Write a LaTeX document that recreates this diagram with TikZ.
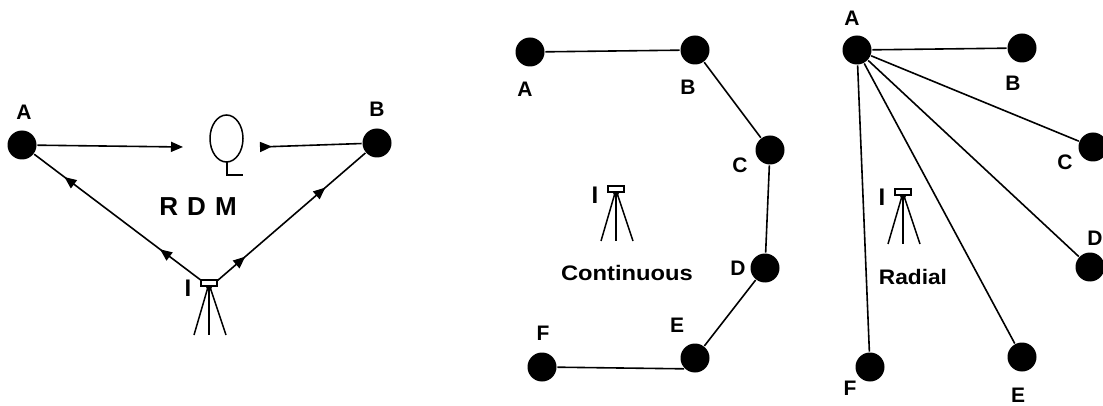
\documentclass[tikz,border=0pt]{standalone}
\usepackage{fontspec}
\setmainfont{Liberation Sans}
\usetikzlibrary{arrows.meta,decorations.markings}
\begin{document}
\begin{tikzpicture}[x=1pt,y=-1pt,
  line width=1.6pt,
  station/.style={circle,fill=black,draw=none,minimum size=29pt,inner sep=0pt},
  lbl/.style={inner sep=0pt,font=\fontsize{21}{21}\selectfont\bfseries},
  instlbl/.style={inner sep=0pt,font=\fontsize{24}{24}\selectfont\bfseries},
  big/.style={inner sep=0pt,font=\fontsize{26}{26}\selectfont\bfseries},
  caption/.style={inner sep=0pt,font=\fontsize{21}{21}\selectfont\bfseries},
  tip/.style={-{Triangle[length=12pt,width=10pt]}},
  markat/.style={postaction={decorate},decoration={markings,
    mark=at position #1 with {\arrow{Triangle[length=12pt,width=10pt]}}}},
  tripod/.pic={
    \draw[line width=1.2pt] (-8,0) rectangle (8,6);
    \fill (-3.5,6) -- (3.5,6) -- (0,13) -- cycle;
    \draw[line width=1.5pt] (-1,7) -- (-15,55);
    \draw[line width=1.5pt] (0,7) -- (0,55);
    \draw[line width=1.5pt] (1,7) -- (17,55);
    \coordinate (-left) at (-7,1);
    \coordinate (-right) at (8,1);
  }]
\useasboundingbox (0,0) rectangle (1103,406);

% ---- resection / remote distance measurement ----
\node[station] (lA) at (22,145) {};
\node[station] (lB) at (377,143) {};
\node[lbl] (lAl) at (24,112) {A};
\node[lbl] (lBl) at (377,109) {B};
\coordinate (qL) at (183,147);
\coordinate (qR) at (260,147);
\draw[tip] (lA) -- (qL);
\draw[-{Triangle[length=12pt,width=10pt,reversed]}] (lB) -- (qR);
% target symbol
\draw[line width=1.5pt] (226.5,138.5) ellipse [x radius=16.5, y radius=23.5];
\draw[line width=1.5pt] (227,162) -- (227,175) -- (243,175);
\node[big] (rdm) at (198,207) {R\hspace{0.35em}D\hspace{0.35em}M};
\pic (t1) at (209,280) {tripod};
\node[instlbl] (t1l) at (188,288) {I};
\draw[markat=0.25] (t1-left) -- (lA);
\path[markat=0.82] (t1-left) -- (lA);
\draw[markat=0.19] (t1-right) -- (lB);
\path[markat=0.73] (t1-right) -- (lB);

% ---- continuous traverse ----
\node[station] (cA) at (530,52) {};
\node[station] (cB) at (695,50) {};
\node[station] (cC) at (770,150) {};
\node[station] (cD) at (765,268) {};
\node[station] (cE) at (695,358) {};
\node[station] (cF) at (542,367) {};
\node[lbl] (cAl) at (525,89) {A};
\node[lbl] (cBl) at (688,87) {B};
\node[lbl] (cCl) at (740,165) {C};
\node[lbl] (cDl) at (738,268) {D};
\node[lbl] (cEl) at (677,325) {E};
\node[lbl] (cFl) at (543,333) {F};
\draw (cA) -- (cB) -- (cC) -- (cD) -- (cE);
\draw (cE.south west) -- (cF);
\pic (t2) at (616,186) {tripod};
\node[instlbl] (t2l) at (595,195) {I};
\node[caption] (cont) at (627,273) {\scalebox{1.13}[1]{Continuous}};

% ---- radial ----
\node[station] (rA) at (857,50) {};
\node[station] (rB) at (1022,48) {};
\node[station] (rC) at (1093,147) {};
\node[station] (rD) at (1090,267) {};
\node[station] (rE) at (1022,357) {};
\node[station] (rF) at (870,367) {};
\node[lbl] (rAl) at (852,18) {A};
\node[lbl] (rBl) at (1013,83) {B};
\node[lbl] (rCl) at (1065,162) {C};
\node[lbl] (rDl) at (1095,238) {D};
\node[lbl] (rEl) at (1018,395) {E};
\node[lbl] (rFl) at (850,388) {F};
\foreach \t in {rB,rC,rD,rE,rF} \draw (rA) -- (\t);
\pic (t3) at (903,189) {tripod};
\node[instlbl] (t3l) at (882,197) {I};
\node[caption] (rad) at (913,277) {\scalebox{1.08}[1]{Radial}};
\end{tikzpicture}
\end{document}
